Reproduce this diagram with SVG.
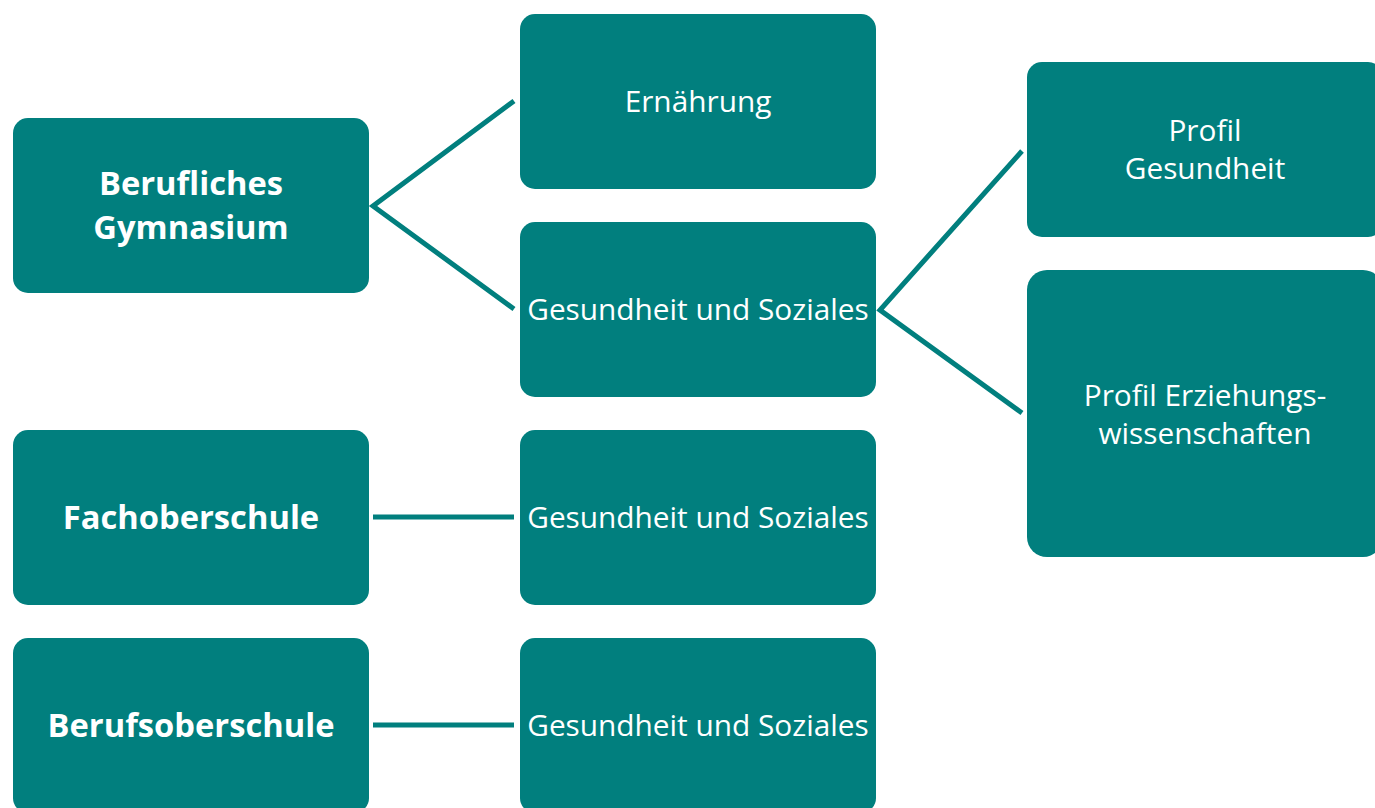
<svg xmlns="http://www.w3.org/2000/svg" width="1375" height="808" viewBox="0 0 1375 808">
<style>
.box{fill:#017f7e}
.t{fill:#fff;font-family:"Open Sans","Liberation Sans",sans-serif;font-size:29.8px;text-anchor:middle;dominant-baseline:central}
.b{font-weight:bold;font-size:32.7px}
.c{stroke:#017f7e;stroke-width:5;fill:none}
</style>
<rect width="1375" height="808" fill="#fff"/>
<g id="connectors">
<polyline class="c" points="514,101 373,206 514,309"/>
<polyline class="c" points="1022,151 880,310 1022,413"/>
<line class="c" x1="373" y1="517" x2="514" y2="517"/>
<line class="c" x1="373" y1="725" x2="514" y2="725"/>
</g>
<g id="n-bg"><rect class="box" x="13" y="118" width="356" height="175" rx="15"/><text class="t b" x="191" y="182">Berufliches</text><text class="t b" x="191" y="226">Gymnasium</text></g>
<g id="n-fos"><rect class="box" x="13" y="430" width="356" height="175" rx="15"/><text class="t b" x="191" y="516">Fachoberschule</text></g>
<g id="n-bos"><rect class="box" x="13" y="638" width="356" height="175" rx="15"/><text class="t b" x="191" y="724">Berufsoberschule</text></g>
<g id="n-ern"><rect class="box" x="520" y="14" width="356" height="175" rx="15"/><text class="t" x="698" y="100">Ernährung</text></g>
<g id="n-gs1"><rect class="box" x="520" y="222" width="356" height="175" rx="15"/><text class="t" x="698" y="308">Gesundheit und Soziales</text></g>
<g id="n-gs2"><rect class="box" x="520" y="430" width="356" height="175" rx="15"/><text class="t" x="698" y="516">Gesundheit und Soziales</text></g>
<g id="n-gs3"><rect class="box" x="520" y="638" width="356" height="175" rx="15"/><text class="t" x="698" y="724">Gesundheit und Soziales</text></g>
<g id="n-pg"><rect class="box" x="1027" y="62" width="356" height="175" rx="15"/><text class="t" x="1205" y="129">Profil</text><text class="t" x="1205" y="167">Gesundheit</text></g>
<g id="n-pe"><rect class="box" x="1027" y="270" width="356" height="287" rx="20"/><text class="t" x="1205" y="394">Profil Erziehungs-</text><text class="t" x="1205" y="432">wissenschaften</text></g>
</svg>
